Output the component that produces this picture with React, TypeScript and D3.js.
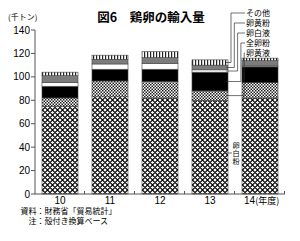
import React from "react";
import * as d3 from "d3";

const years = ["10", "11", "12", "13", "14"];
// stacked from bottom
const seriesNames = ["卵白粉", "卵黄液", "全卵粉", "卵白液", "卵黄粉", "その他"];
const eggWhitePowder = [75, 83, 82, 80, 82];
const yolkLiquid = [7, 13.5, 14, 8, 13];
const wholeEggPowder = [10, 10, 10.5, 16, 13.5];
const eggWhiteLiquid = [3, 4.5, 5, 2, 0.8];
const yolkPowder = [6, 4, 5, 4, 4.5];
const others = [3, 3.5, 5, 4.5, 2.2];
const yTicks = [0, 20, 40, 60, 80, 100, 120, 140];
const legendOrder = ["その他", "卵黄粉", "卵白液", "全卵粉", "卵黄液"];

const W = 300;
const H = 241;

export default function App() {
  const x = d3.scaleBand<string>().domain(years).range([35, 285]).paddingInner(0.28).paddingOuter(0.14);
  const y = d3.scaleLinear().domain([0, 140]).range([194, 30]);

  const rows = years.map((yr, i) => ({
    year: yr,
    卵白粉: eggWhitePowder[i],
    卵黄液: yolkLiquid[i],
    全卵粉: wholeEggPowder[i],
    卵白液: eggWhiteLiquid[i],
    卵黄粉: yolkPowder[i],
    その他: others[i],
  }));
  const stack = d3.stack<any>().keys(seriesNames)(rows as any);

  const fills: Record<string, string> = {
    卵白粉: "url(#pBig)",
    卵黄液: "url(#pFine)",
    全卵粉: "#000",
    卵白液: "#fff",
    卵黄粉: "#7c7c7c",
    その他: "url(#pStripe)",
  };

  const bw = x.bandwidth();
  const step = x.step();
  const i13 = years.indexOf("13");
  const bar13Right = (x("13") as number) + bw;

  const font = "'Liberation Sans', Arial, sans-serif";
  const jp = "'Noto Sans CJK JP', sans-serif";

  return (
    <svg width={W} height={H} style={{ display: "block", position: "absolute", left: 0, top: 0 }}>
      <defs>
        <pattern id="pBig" width={5} height={5} patternUnits="userSpaceOnUse">
          <rect width={5} height={5} fill="#fff" />
          <path d="M0,2.5L2.5,0L5,2.5L2.5,5Z" fill="none" stroke="#000" strokeWidth={1.1} />
        </pattern>
        <pattern id="pFine" width={3} height={3} patternUnits="userSpaceOnUse">
          <rect width={3} height={3} fill="#fff" />
          <rect x={0} y={0} width={1.5} height={1.5} fill="#222" />
          <rect x={1.5} y={1.5} width={1.5} height={1.5} fill="#222" />
        </pattern>
        <pattern id="pStripe" width={3} height={3} patternUnits="userSpaceOnUse">
          <rect width={3} height={3} fill="#fff" />
          <rect x={0} y={0} width={1.2} height={3} fill="#222" />
        </pattern>
      </defs>

      {/* title */}
      <text x={151} y={22} textAnchor="middle" fontFamily={jp} fontWeight="bold" fontSize={12.5} fill="#000">
        図6　鶏卵の輸入量
      </text>
      <text x={8} y={20} fontFamily={jp} fontSize={8} fill="#000">(千トン)</text>

      {/* y axis */}
      <line x1={35} x2={35} y1={y(140)} y2={y(0)} stroke="#555" strokeWidth={1} />
      {yTicks.map((t) => (
        <g key={t}>
          <line x1={31} x2={35} y1={y(t)} y2={y(t)} stroke="#555" strokeWidth={1} />
          <text x={30} y={y(t) + 3.5} textAnchor="end" fontFamily={font} fontSize={10} fill="#000">
            {t}
          </text>
        </g>
      ))}

      {/* bars */}
      {stack.map((s) => (
        <g key={s.key}>
          {s.map((d, i) => (
            <rect
              key={i}
              x={x(years[i])}
              y={y(d[1])}
              width={bw}
              height={Math.max(0, y(d[0]) - y(d[1]))}
              fill={fills[s.key]}
              stroke="#444"
              strokeWidth={0.6}
            />
          ))}
        </g>
      ))}

      {/* x axis */}
      <line x1={35} x2={285} y1={y(0)} y2={y(0)} stroke="#555" strokeWidth={1} />
      {years.map((yr, i) => (
        <line key={yr} x1={35 + step * (i + 1) - 0.5} x2={35 + step * (i + 1) - 0.5} y1={y(0)} y2={y(0) - 3} stroke="#555" />
      ))}
      {years.map((yr, i) => {
        const cx = (x(yr) as number) + bw / 2;
        if (i === years.length - 1) {
          return (
            <text key={yr} x={cx - 16} y={204} fontFamily={font} fontSize={10} fill="#000">
              {yr}
              <tspan fontFamily={jp} fontSize={9}>(年度)</tspan>
            </text>
          );
        }
        return (
          <text key={yr} x={cx} y={204} textAnchor="middle" fontFamily={font} fontSize={10} fill="#000">
            {yr}
          </text>
        );
      })}

      {/* legend leaders */}
      {legendOrder.map((name, k) => {
        const s = stack.find((q) => q.key === name)!;
        const d = s[i13];
        const segMid = (y(d[0]) + y(d[1])) / 2;
        const ty = 13 + k * 10;
        const vx = bar13Right + 3 + k * 3.3;
        return (
          <g key={name}>
            <polyline
              points={`245,${ty} ${vx},${ty} ${vx},${segMid} ${bar13Right - 2},${segMid}`}
              fill="none"
              stroke="#333"
              strokeWidth={0.7}
            />
            <text x={246} y={ty + 3} fontFamily={jp} fontSize={8} fill="#000">
              {name}
            </text>
          </g>
        );
      })}
      {/* vertical label for bottom series */}
      <line x1={bar13Right - 2} x2={bar13Right + 4} y1={153} y2={153} stroke="#333" strokeWidth={0.7} />
      <text
        x={bar13Right + 8}
        y={142}
        fontFamily={jp}
        fontSize={7.2}
        fill="#000"
        style={{ writingMode: "vertical-rl", letterSpacing: "0.8px" }}
      >
        {seriesNames[0]}
      </text>

      {/* notes */}
      <text x={20.5} y={214} fontFamily={jp} fontSize={8} fill="#000">資料：財務省「貿易統計」</text>
      <text x={28.5} y={224} fontFamily={jp} fontSize={8} fill="#000">注：殻付き換算ベース</text>
    </svg>
  );
}
